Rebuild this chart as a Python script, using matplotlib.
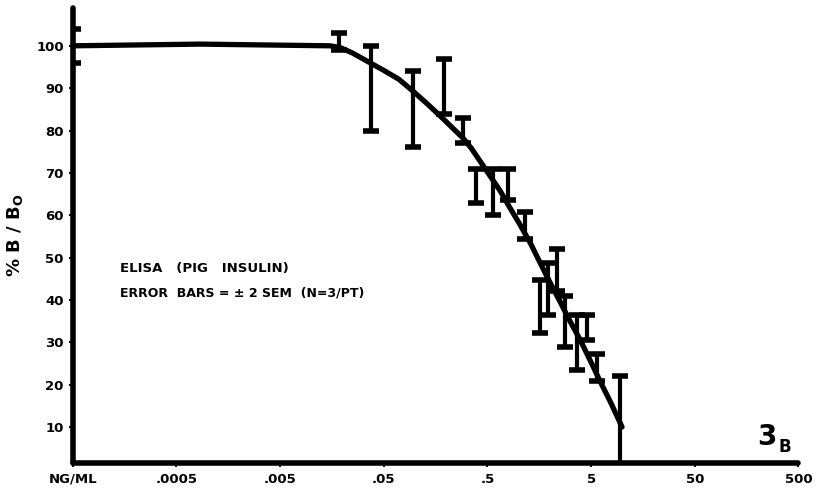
import numpy as np
import matplotlib
matplotlib.use("Agg")
import matplotlib.pyplot as plt

# mean points with +/- error
dose = [5e-5, 0.0185, 0.0376, 0.0957, 0.19, 0.291, 0.388, 0.567, 0.79, 1.15,
        1.61, 1.92, 2.35, 2.81, 3.66, 4.57, 5.71, 9.5]
pct = [100, 101, 90, 85, 90.5, 80, 67, 65.5, 67.3, 57.5,
       38.5, 42.6, 47, 35, 30, 33.5, 24, 10]
err = [4, 2, 10, 9, 6.5, 3, 4, 5.5, 3.6, 3.2,
       6.3, 6.2, 5, 6, 6.5, 3, 3.2, 12]

# hand-drawn fitted curve
curve_x = [5e-5, 8.4e-4, 0.0151, 0.0189, 0.025, 0.0368, 0.05, 0.07, 0.0957,
           0.13, 0.174, 0.22, 0.291, 0.35, 0.424, 0.5, 0.662, 0.8, 1.03,
           1.3, 1.61, 2.0, 2.51, 3.1, 3.92, 4.8, 6.11, 7.8, 9.95]
curve_y = [100, 100.4, 100, 99.6, 98.3, 96, 94.2, 92.1, 89.3,
           86.4, 83.5, 81.1, 78.2, 75.8, 72.8, 70.2, 65.8, 62.3, 57.8,
           53.4, 48.8, 44.2, 39.6, 35.2, 30.6, 26.2, 20.8, 15.6, 10]

xticks = [5e-5, 5e-4, 5e-3, 5e-2, 5e-1, 5, 50, 500]
xlabels = ["NG/ML", ".0005", ".005", ".05", ".5", "5", "50", "500"]
yticks = [10, 20, 30, 40, 50, 60, 70, 80, 90, 100]

plt.rcParams['font.family'] = ['DejaVu Sans']
plt.rcParams['font.weight'] = 'bold'

fig = plt.figure(figsize=(8.18, 4.96), dpi=100)
ax = fig.add_axes([0.089, 0.0665, 0.887, 0.918])

ax.plot(curve_x, curve_y, color='black', lw=3.8, solid_capstyle='round',
        solid_joinstyle='round')
ax.errorbar(dose, pct, yerr=err, fmt='none', ecolor='black', elinewidth=3,
            capsize=5.5, capthick=4)

ax.set_xscale('log')
ax.set_xlim(5e-5, 500)
ax.set_ylim(1.5, 109)
ax.set_xticks(xticks)
ax.set_xticklabels(xlabels, fontsize=9.5, fontweight='bold')
ax.minorticks_off()
ax.set_yticks(yticks)
ax.set_yticklabels([str(v) for v in yticks], fontsize=9.5, fontweight='bold')
ax.tick_params(axis='both', length=3, width=1.5, color='black')
ax.tick_params(axis='x', pad=4)

for s in ['top', 'right']:
    ax.spines[s].set_visible(False)
for s in ['left', 'bottom']:
    ax.spines[s].set_linewidth(4)
    ax.spines[s].set_capstyle('round')

ax.set_ylabel("% B / B$_{\\mathregular{O}}$", fontsize=13, fontweight='bold', labelpad=8)

ax.text(0.065, 0.42, "ELISA   (PIG   INSULIN)", transform=ax.transAxes,
        fontsize=9.5, fontweight='bold')
ax.text(0.065, 0.365, "ERROR  BARS = ± 2 SEM  (N=3/PT)", transform=ax.transAxes,
        fontsize=9, fontweight='bold')
ax.text(0.943, 0.04, "3", transform=ax.transAxes, fontsize=20, fontweight='bold')
ax.text(0.972, 0.025, "B", transform=ax.transAxes, fontsize=12, fontweight='bold')

fig.savefig("out.png", dpi=100)
